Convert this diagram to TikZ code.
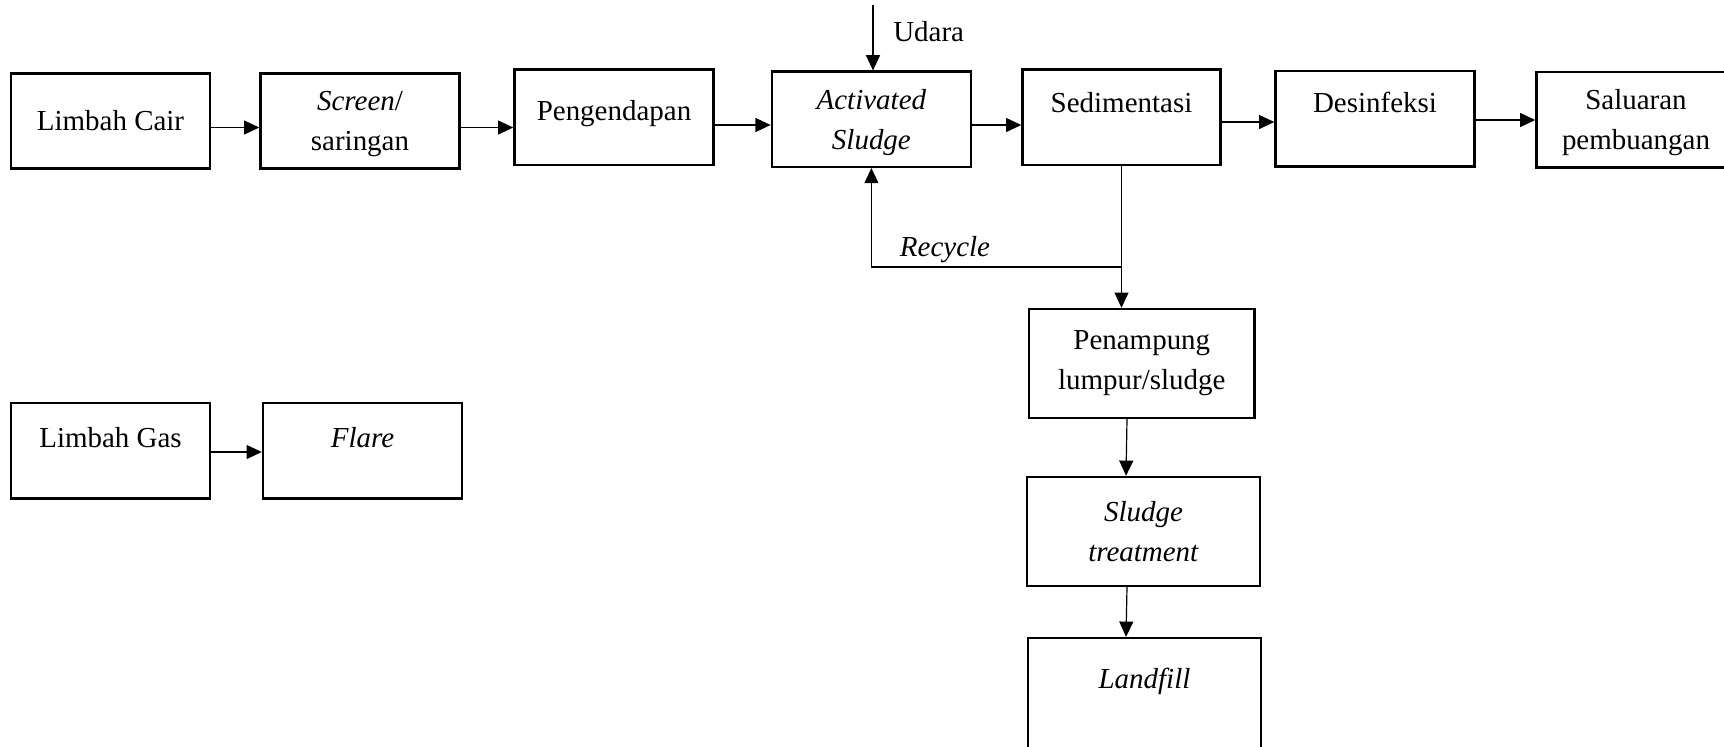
\documentclass[tikz,border=0pt]{standalone}
\usepackage{fontspec}
\setmainfont{Liberation Serif}
\usetikzlibrary{arrows.meta}

\tikzset{
  box/.style={draw,line width=1.7pt,inner sep=0pt,align=center,
    minimum width=4.975cm,minimum height=2.38cm},
  bigbox/.style={box,minimum width=5.825cm,minimum height=2.725cm},
  lift/.style={text height=0.5cm,text depth=#1},
  arr/.style={line width=0.85pt,-{Triangle[length=0.38cm,width=0.35cm]}}
}

\begin{document}
\begin{tikzpicture}[x=0.025cm,y=-0.025cm,font=\fontsize{20.6pt}{28.5pt}\selectfont]
\useasboundingbox (0,0) rectangle (1724,746);
% limbah cair
\node[box] (cair) at (110.5,121) {Limbah Cair};
\node[box,text depth=-0.06cm] (screen) at (360,121) {\textit{Screen}/\\saringan};
\node[box,lift=0.35cm] (peng) at (614,117.2) {Pengendapan};
\node[box,text depth=-0.06cm] (act) at (871.4,119.2) {\textit{Activated}\\\textit{Sludge}};
\node[box,lift=0.75cm,minimum width=4.95cm] (sed) at (1121.5,117.2) {Sedimentasi};
\node[box,lift=0.83cm] (des) at (1375,118.8) {Desinfeksi};
\node[box,text depth=-0.06cm] (sal) at (1636,119.9) {Saluaran\\pembuangan};
\node[bigbox,minimum width=5.64cm] (pen) at (1141.8,363.5) {Penampung\\lumpur/sludge};
\node[bigbox] (slu) at (1143.5,531.5) {\textit{Sludge}\\\textit{treatment}};
\node[bigbox,lift=0.79cm,minimum height=2.8cm] (land) at (1144.5,694) {\textit{Landfill}};
% limbah gas
\node[box,lift=0.65cm] (gas) at (110.5,450.8) {Limbah Gas};
\node[box,lift=0.65cm] (flare) at (362.5,450.8) {\textit{Flare}};

\draw[arr] (cair.east |- 0,127.5) -- (screen.west |- 0,127.5);
\draw[arr] (screen.east |- 0,127.5) -- (peng.west |- 0,127.5);
\draw[arr] (peng.east |- 0,125) -- (act.west |- 0,125);
\draw[arr] (act.east |- 0,125) -- (sed.west |- 0,125);
\draw[arr] (sed.east |- 0,122) -- (des.west |- 0,122);
\draw[arr] (des.east |- 0,120) -- (sal.west |- 0,120);
\draw[arr] (gas.east |- 0,452) -- (flare.west |- 0,452);

% udara dan recycle
\coordinate (air) at (873,5);
\draw[arr] (air) -- (act.north -| air);
\node[anchor=west,inner sep=0pt] (udara) at (893,32) {Udara};
\coordinate (split) at (sed.south |- 0,267);
\draw[arr] (sed.south) -- (pen.north -| sed.south);
\draw[arr] (split) -| (act.south);
\node (rec) at (945,249.5) {\textit{Recycle}};

\draw[arr] (pen.south -| 1127,0) -- (slu.north -| 1126,0);
\draw[arr] (slu.south -| 1127,0) -- (land.north -| 1126,0);
\end{tikzpicture}
\end{document}
